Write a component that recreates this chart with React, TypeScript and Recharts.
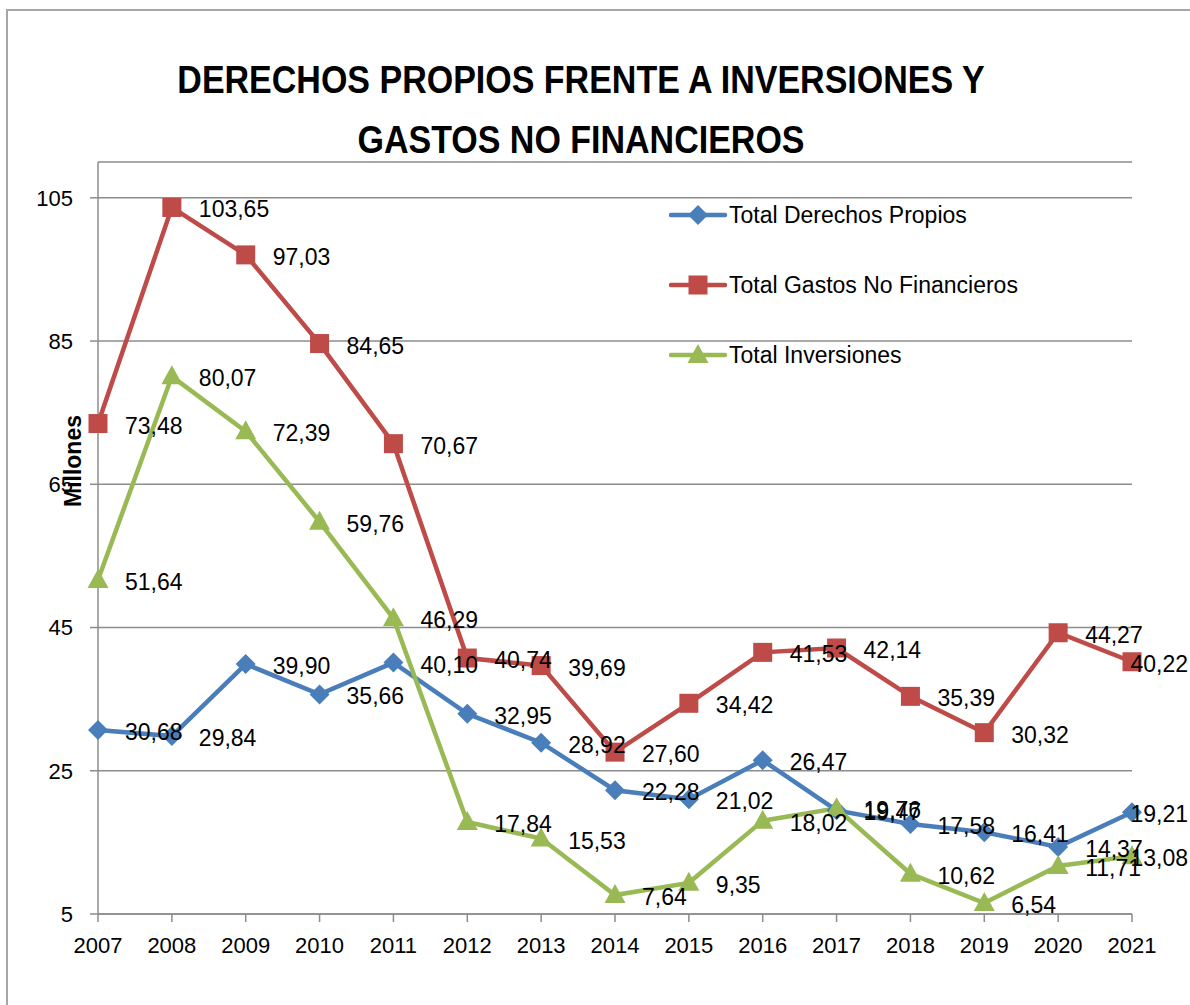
import {
    CartesianGrid,
    LabelList,
    Legend,
    Line,
    LineChart,
    XAxis,
    YAxis,
} from "recharts";

const years = [
    "2007", "2008", "2009", "2010", "2011", "2012", "2013", "2014",
    "2015", "2016", "2017", "2018", "2019", "2020", "2021",
];
const derechosPropios = [
    30.68, 29.84, 39.9, 35.66, 40.1, 32.95, 28.92, 22.28, 21.02, 26.47,
    19.47, 17.58, 16.41, 14.37, 19.21,
];
const gastosNoFinancieros = [
    73.48, 103.65, 97.03, 84.65, 70.67, 40.74, 39.69, 27.6, 34.42, 41.53,
    42.14, 35.39, 30.32, 44.27, 40.22,
];
const inversiones = [
    51.64, 80.07, 72.39, 59.76, 46.29, 17.84, 15.53, 7.64, 9.35, 18.02,
    19.76, 10.62, 6.54, 11.71, 13.08,
];
const yTicks = [5, 25, 45, 65, 85, 105];

const BLUE = "#4A7EBB";
const RED = "#BE4B48";
const GREEN = "#98B954";
const FONT = "'Liberation Sans', Arial, sans-serif";

const data = years.map((year, i) => ({
    year,
    derechos: derechosPropios[i],
    gastos: gastosNoFinancieros[i],
    inversiones: inversiones[i],
}));

function marker(kind: string, cx: number, cy: number, color: string, key?: any) {
    if (kind === "diamond") {
        const r = 10;
        return (
            <path
                key={key}
                d={`M${cx},${cy - r}L${cx + r},${cy}L${cx},${cy + r}L${cx - r},${cy}Z`}
                fill={color}
            />
        );
    }
    if (kind === "square") {
        const s = 9.5;
        return <rect key={key} x={cx - s} y={cy - s} width={s * 2} height={s * 2} fill={color} />;
    }
    return (
        <path
            key={key}
            d={`M${cx},${cy - 11}L${cx + 10.5},${cy + 8}L${cx - 10.5},${cy + 8}Z`}
            fill={color}
        />
    );
}

const makeDot = (kind: string, color: string) => (props: any) =>
    marker(kind, props.cx, props.cy, color, `${kind}-${props.index}`);

const renderLabel = (props: any) => {
    const { x, y, value, index } = props;
    const text = Number(value).toFixed(2).replace(".", ",");
    const last = index === years.length - 1;
    return (
        <text
            x={last ? 1188 : x + 27}
            y={y + 2}
            textAnchor={last ? "end" : "start"}
            dominantBaseline="central"
            fontSize={23}
            fontFamily={FONT}
            fill="#000"
        >
            {text}
        </text>
    );
};

const legendItems = [
    { name: "Total Derechos Propios", color: BLUE, kind: "diamond" },
    { name: "Total Gastos No Financieros", color: RED, kind: "square" },
    { name: "Total Inversiones", color: GREEN, kind: "triangle" },
];

const renderLegend = () => (
    <div style={{ fontFamily: FONT, fontSize: 23, color: "#000" }}>
        {legendItems.map((item) => (
            <div
                key={item.name}
                style={{ display: "flex", alignItems: "center", height: 70 }}
            >
                <svg width={60} height={26}>
                    <line
                        x1={2}
                        y1={13}
                        x2={56}
                        y2={13}
                        stroke={item.color}
                        strokeWidth={4.5}
                        strokeLinecap="round"
                    />
                    {marker(item.kind, 29, 13, item.color)}
                </svg>
                <span>{item.name}</span>
            </div>
        ))}
    </div>
);

function App() {
    return (
        <div
            style={{
                position: "absolute",
                left: 0,
                top: 0,
                width: 1190,
                height: 1005,
                overflow: "hidden",
                background: "#fff",
            }}
        >
            <div
                style={{
                    position: "absolute",
                    left: 6,
                    top: 9,
                    width: 1300,
                    height: 1100,
                    border: "2px solid #a6a6a6",
                }}
            />
            <div
                style={{
                    position: "absolute",
                    left: 0,
                    top: 57,
                    width: 1162,
                    textAlign: "center",
                    fontFamily: FONT,
                    fontWeight: "bold",
                    fontSize: 34,
                    lineHeight: "52px",
                    color: "#000",
                    transform: "scaleY(1.15)",
                }}
            >
                DERECHOS PROPIOS FRENTE A INVERSIONES Y
                <br />
                GASTOS NO FINANCIEROS
            </div>
            <div style={{ position: "absolute", left: 0, top: 0 }}>
                <LineChart
                    width={1190}
                    height={1005}
                    data={data}
                    margin={{ top: 162, right: 58, left: 38, bottom: 51 }}
                >
                    <CartesianGrid
                        vertical={false}
                        stroke="#8c8c8c"
                        strokeWidth={1.5}
                    />
                    <XAxis
                        dataKey="year"
                        height={40}
                        tickSize={8}
                        tickMargin={15}
                        stroke="#8c8c8c"
                        strokeWidth={1.5}
                        tick={{ fontSize: 22, fontFamily: FONT, fill: "#000" }}
                        interval={0}
                    />
                    <YAxis
                        width={60}
                        domain={[5, 110]}
                        ticks={yTicks}
                        tickSize={8}
                        tickMargin={17}
                        stroke="#8c8c8c"
                        strokeWidth={1.5}
                        tick={{ fontSize: 22, fontFamily: FONT, fill: "#000" }}
                        label={{
                            value: "Millones",
                            angle: -90,
                            position: "insideLeft",
                            dx: 30,
                            dy: -77,
                            style: {
                                fontSize: 23,
                                fontWeight: "bold",
                                fontFamily: FONT,
                                fill: "#000",
                                textAnchor: "middle",
                            },
                        }}
                    />
                    <Legend
                        layout="vertical"
                        align="center"
                        verticalAlign="middle"
                        content={renderLegend}
                        wrapperStyle={{ left: 669, top: 180, width: 420 }}
                    />
                    <Line
                        type="linear"
                        dataKey="derechos"
                        name="Total Derechos Propios"
                        stroke={BLUE}
                        strokeWidth={4.5}
                        dot={makeDot("diamond", BLUE)}
                        activeDot={false}
                        isAnimationActive={false}
                    >
                        <LabelList dataKey="derechos" content={renderLabel} />
                    </Line>
                    <Line
                        type="linear"
                        dataKey="gastos"
                        name="Total Gastos No Financieros"
                        stroke={RED}
                        strokeWidth={4.5}
                        dot={makeDot("square", RED)}
                        activeDot={false}
                        isAnimationActive={false}
                    >
                        <LabelList dataKey="gastos" content={renderLabel} />
                    </Line>
                    <Line
                        type="linear"
                        dataKey="inversiones"
                        name="Total Inversiones"
                        stroke={GREEN}
                        strokeWidth={4.5}
                        dot={makeDot("triangle", GREEN)}
                        activeDot={false}
                        isAnimationActive={false}
                    >
                        <LabelList dataKey="inversiones" content={renderLabel} />
                    </Line>
                </LineChart>
            </div>
        </div>
    );
}

export default App;
